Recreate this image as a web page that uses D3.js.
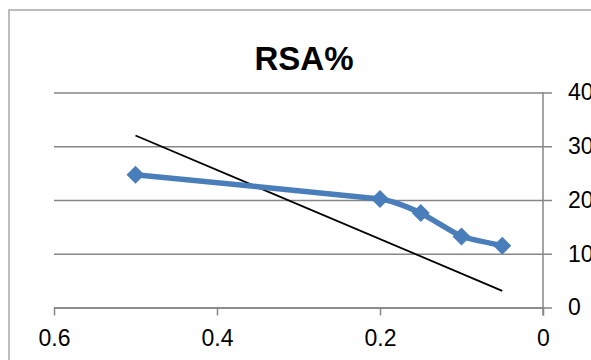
<!DOCTYPE html>
<html><head><meta charset="utf-8">
<script src="https://cdn.jsdelivr.net/npm/d3@7"></script>
<style>html,body{margin:0;padding:0;background:#fff;overflow:hidden}</style>
</head><body>
<svg id="c" width="591" height="360"></svg>
<script>
const title = "RSA%";
const xValues = [0.5, 0.2, 0.15, 0.1, 0.05];
const yValues = [24.7, 20.2, 17.6, 13.2, 11.5];
const trendX = [0.5, 0.05];
const trendY = [32.0, 3.1];
const xTicks = [0.6, 0.4, 0.2, 0];
const yTicks = [0, 10, 20, 30, 40];

const svg = d3.select("#c");
const x = d3.scaleLinear().domain([0.6, 0]).range([54, 543]);
const y = d3.scaleLinear().domain([0, 40]).range([307.5, 92.5]);
const gray = "#868686";
const font = "'Liberation Sans', Arial, sans-serif";

// chart border (extends beyond the image on right/bottom)
svg.append("rect").attr("x", 9).attr("y", 10).attr("width", 700).attr("height", 500)
  .attr("fill", "none").attr("stroke", "#a6a6a6").attr("stroke-width", 1.5);

// title
svg.append("text").attr("x", 304).attr("y", 70).attr("text-anchor", "middle")
  .attr("font-family", font).attr("font-weight", "bold").attr("font-size", 33)
  .attr("fill", "#000").text(title);

// gridlines (extending out as tick marks on the right)
const grid = svg.append("g").attr("transform", "translate(552,0)")
  .call(d3.axisLeft(y).tickValues(yTicks).tickSize(552 - 54).tickFormat(""));
grid.select(".domain").remove();
grid.selectAll("line").attr("stroke", gray).attr("stroke-width", 1.5);

// y axis line + labels on right
const ya = svg.append("g").attr("transform", "translate(543,0)")
  .call(d3.axisRight(y).tickValues(yTicks).tickSize(0).tickPadding(25).tickFormat(d3.format("d")));
ya.select(".domain").remove();
ya.selectAll("text").attr("font-family", font).attr("font-size", 23).attr("fill", "#000");
svg.append("line").attr("x1", 543).attr("x2", 543).attr("y1", y(40)).attr("y2", 315.5)
  .attr("stroke", gray).attr("stroke-width", 1.5);

// x axis
const xa = svg.append("g").attr("transform", "translate(0,307.5)")
  .call(d3.axisBottom(x).tickValues(xTicks).tickSize(8).tickSizeOuter(0).tickPadding(14)
    .tickFormat(d => d === 0 ? "0" : d3.format(".1f")(d)));
xa.select(".domain").attr("stroke", gray).attr("stroke-width", 1.5);
xa.selectAll("line").attr("stroke", gray).attr("stroke-width", 1.5);
xa.selectAll("text").attr("font-family", font).attr("font-size", 23).attr("fill", "#000");

// trend line
const trend = trendX.map((d, i) => [d, trendY[i]]);
svg.append("path").datum(trend)
  .attr("d", d3.line().x(d => x(d[0])).y(d => y(d[1])))
  .attr("fill", "none").attr("stroke", "#000").attr("stroke-width", 1.8);

// series
const pts = xValues.map((d, i) => [d, yValues[i]]);
const blue = "#4a7ebb";
svg.append("path").datum(pts)
  .attr("d", d3.line().x(d => x(d[0])).y(d => y(d[1])).curve(d3.curveCardinal.tension(0.7)))
  .attr("fill", "none").attr("stroke", blue).attr("stroke-width", 5.5)
  .attr("stroke-linejoin", "round");
svg.selectAll(".m").data(pts).enter().append("path")
  .attr("transform", d => `translate(${x(d[0])},${y(d[1])})`)
  .attr("d", "M0,-9L9,0L0,9L-9,0Z").attr("fill", blue);
</script>
</body></html>
